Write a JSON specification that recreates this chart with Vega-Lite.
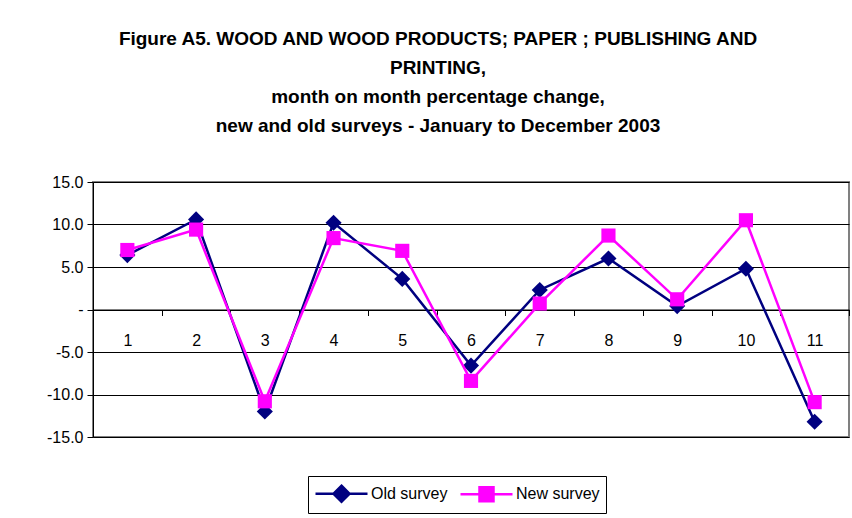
{
  "$schema": "https://vega.github.io/schema/vega-lite/v6.json",
  "width": 756,
  "height": 255,
  "autosize": {"type": "none"},
  "padding": {"left": 93, "top": 182, "right": 3, "bottom": 81},
  "background": "white",
  "title": {
    "text": ["Figure A5. WOOD AND WOOD PRODUCTS; PAPER ; PUBLISHING  AND", "PRINTING,", "month on month percentage change,", "new and old surveys - January to December 2003"],
    "font": "Liberation Sans",
    "fontSize": 19,
    "fontWeight": "bold",
    "color": "black",
    "anchor": "middle",
    "dx": -33,
    "offset": 38,
    "lineHeight": 29
  },
  "data": {
    "values": [
      {"month": 1, "series": "Old survey", "value": 6.4},
      {"month": 2, "series": "Old survey", "value": 10.6},
      {"month": 3, "series": "Old survey", "value": -12.0},
      {"month": 4, "series": "Old survey", "value": 10.2},
      {"month": 5, "series": "Old survey", "value": 3.6},
      {"month": 6, "series": "Old survey", "value": -6.6},
      {"month": 7, "series": "Old survey", "value": 2.3},
      {"month": 8, "series": "Old survey", "value": 6.0},
      {"month": 9, "series": "Old survey", "value": 0.4},
      {"month": 10, "series": "Old survey", "value": 4.8},
      {"month": 11, "series": "Old survey", "value": -13.2},
      {"month": 1, "series": "New survey", "value": 7.0},
      {"month": 2, "series": "New survey", "value": 9.4},
      {"month": 3, "series": "New survey", "value": -10.8},
      {"month": 4, "series": "New survey", "value": 8.4},
      {"month": 5, "series": "New survey", "value": 6.9},
      {"month": 6, "series": "New survey", "value": -8.4},
      {"month": 7, "series": "New survey", "value": 0.7},
      {"month": 8, "series": "New survey", "value": 8.7},
      {"month": 9, "series": "New survey", "value": 1.2},
      {"month": 10, "series": "New survey", "value": 10.5},
      {"month": 11, "series": "New survey", "value": -10.9}
    ]
  },
  "encoding": {
    "x": {
      "field": "month", "type": "ordinal",
      "scale": {"type": "band", "paddingInner": 0, "paddingOuter": 0},
      "axis": {
        "title": null, "orient": "bottom", "offset": -127.5,
        "labelAngle": 0, "tickBand": "extent", "domainColor": "black", "domainWidth": 1,
        "tickColor": "black", "tickSize": 6, "labelPadding": 17,
        "labelFont": "Liberation Sans", "labelFontSize": 16, "labelColor": "black"
      }
    },
    "y": {
      "field": "value", "type": "quantitative",
      "scale": {"domain": [-15, 15], "nice": false, "zero": false},
      "axis": {
        "title": null, "values": [-15, -10, -5, 0, 5, 10, 15],
        "labelExpr": "datum.value == 0 ? '-' : (datum.value < 0 ? '-' + format(-datum.value, '.1f') : format(datum.value, '.1f'))",
        "grid": true, "gridColor": "black", "gridWidth": 1, "gridOpacity": 1,
        "domainColor": "black", "tickColor": "black", "tickSize": 6, "labelPadding": 4,
        "labelFont": "Liberation Sans", "labelFontSize": 16, "labelColor": "black"
      }
    },
    "color": {
      "field": "series", "type": "nominal",
      "scale": {"domain": ["Old survey", "New survey"], "range": ["#000080", "#FF00FF"]},
      "legend": {
        "title": null, "orient": "none", "direction": "horizontal",
        "legendX": 215, "legendY": 294,
        "strokeColor": "black", "padding": 6,
        "symbolSize": 400, "symbolStrokeWidth": 2.5, "symbolOffset": 16,
        "labelFont": "Liberation Sans", "labelFontSize": 16, "labelColor": "black",
        "labelOffset": 18, "columnPadding": 7,
        "encode": {
          "symbols": {
            "update": {
              "shape": {"signal": "datum.value == 'Old survey' ? 'M-2.6,0H2.6M0,-0.8L0.8,0L0,0.8L-0.8,0Z' : 'M-2.6,0H2.6M-0.7,-0.7H0.7V0.7H-0.7Z'"},
              "fill": {"signal": "datum.value == 'Old survey' ? '#000080' : '#FF00FF'"},
              "stroke": {"signal": "datum.value == 'Old survey' ? '#000080' : '#FF00FF'"},
              "fillOpacity": {"value": 1}
            }
          }
        }
      }
    }
  },
  "layer": [
    {
      "transform": [{"filter": "datum.series == 'Old survey'"}],
      "mark": {"type": "line", "strokeWidth": 2.5, "point": {"shape": "diamond", "size": 260, "filled": true, "opacity": 1}}
    },
    {
      "transform": [{"filter": "datum.series == 'New survey'"}],
      "mark": {"type": "line", "strokeWidth": 2.5, "point": {"shape": "square", "size": 200, "filled": true, "opacity": 1}}
    }
  ],
  "config": {
    "view": {"stroke": "#808080", "strokeWidth": 2}
  }
}
